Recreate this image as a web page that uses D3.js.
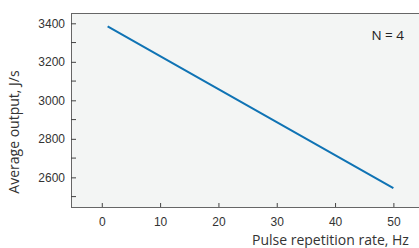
<!DOCTYPE html>
<html lang="en">
<head>
<meta charset="UTF-8">
<title>Average output vs pulse rate</title>
<script src="https://d3js.org/d3.v7.min.js"></script>
<style>
    html, body { margin: 0; padding: 0; background: #fff; overflow: hidden; }
    svg { display: block; font-family: "Open Sans", "Noto Sans", sans-serif; }
    .tick text { fill: #333; font-size: 12px; }
</style>
</head>
<body>
<div id="chart"></div>
<script>
// data
const rate = [1, 10, 20, 30, 40, 50];
const output = [3384, 3230, 3058, 2887, 2715, 2544];
const xTicks = [0, 10, 20, 30, 40, 50];
const yTicks = [2600, 2800, 3000, 3200, 3400];
const yMinor = [2500, 2700, 2900, 3100, 3300];

const W = 419, H = 248;
const margin = { top: 13, left: 71 };
const plotRight = 430, plotBottom = 207;

const svg = d3.select("#chart").append("svg")
    .attr("width", W)
    .attr("height", H);

const x = d3.scaleLinear().domain([-5.28, 56.28]).range([margin.left, plotRight]);
const y = d3.scaleLinear().domain([2446, 3453.5]).range([plotBottom, margin.top]);

// plot background
svg.append("rect")
    .attr("x", margin.left).attr("y", margin.top)
    .attr("width", plotRight - margin.left)
    .attr("height", plotBottom - margin.top)
    .attr("fill", "#f3f5f4")
    .attr("stroke", "#666")
    .attr("stroke-width", 1)
    .attr("shape-rendering", "crispEdges");

// x axis, ticks pointing inward
const gx = svg.append("g")
    .attr("transform", `translate(0,${plotBottom})`)
    .call(d3.axisBottom(x).tickValues(xTicks).tickSizeInner(-4).tickSizeOuter(0).tickPadding(10));
gx.select(".domain").remove();
gx.selectAll(".tick line").attr("stroke", "#444");

// y axis
const gy = svg.append("g")
    .attr("transform", `translate(${margin.left},0)`)
    .call(d3.axisLeft(y).tickValues(yTicks).tickSizeInner(-5).tickSizeOuter(0).tickPadding(6).tickFormat(d3.format("d")));
gy.select(".domain").remove();
gy.selectAll(".tick line").attr("stroke", "#444");

// minor y ticks
svg.append("g").selectAll("line")
    .data(yMinor)
    .enter().append("line")
    .attr("x1", margin.left).attr("x2", margin.left + 5)
    .attr("y1", d => y(d)).attr("y2", d => y(d))
    .attr("stroke", "#444");

// the line
const line = d3.line().x((d, i) => x(rate[i])).y(d => y(d));
svg.append("path")
    .datum(output)
    .attr("d", line)
    .attr("fill", "none")
    .attr("stroke", "#0f73b4")
    .attr("stroke-width", 2);

// annotation
svg.append("text")
    .attr("x", 404).attr("y", 40)
    .attr("text-anchor", "end")
    .attr("font-size", 13.5)
    .attr("fill", "#222")
    .text("N = 4");

// axis titles
svg.append("text")
    .attr("x", 252).attr("y", 245)
    .attr("font-size", 14)
    .attr("fill", "#333")
    .text("Pulse repetition rate, Hz");

svg.append("text")
    .attr("transform", "translate(19,132) rotate(-90)")
    .attr("text-anchor", "middle")
    .attr("font-size", 14)
    .attr("fill", "#333")
    .text("Average output, J/s");
</script>
</body>
</html>
